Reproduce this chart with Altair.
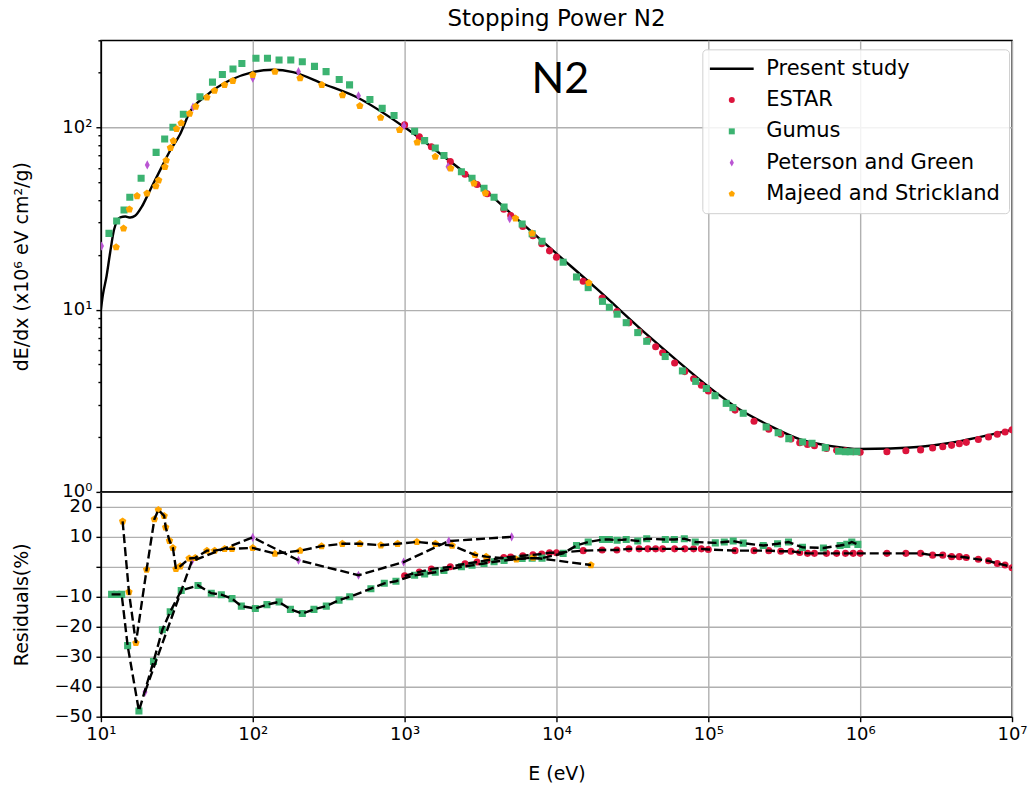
import altair as alt
import pandas as pd

# ---------------- data ----------------
series = ["Present study", "ESTAR", "Gumus", "Peterson and Green", "Majeed and Strickland"]
colors = ["#000000", "#dc143c", "#3cb371", "#ba55d3", "#ffa500"]
shapes = [
    "M-7.3,-0.42L7.3,-0.42L7.3,0.42L-7.3,0.42Z",
    "circle",
    "square",
    "M0,-1.3L0.7,0L0,1.3L-0.7,0Z",
    "M0,-1.1L1.05,-0.34L0.65,0.89L-0.65,0.89L-1.05,-0.34Z",
]

# Present study (solid curve)
curve_E = [10, 10.3, 10.9, 11.5, 12.2, 13.4, 14.5, 15.6, 16.8, 18.6, 20.6, 23.9, 28.6, 33.3, 38.4,
           49.4, 70.6, 100, 136, 184, 290, 481, 1000, 1840, 3050, 5050, 10000, 18300, 40700, 63100,
           100000, 158000, 251000, 398000, 631000, 1000000, 1580000, 2510000, 3980000, 6310000, 10000000]
curve_S = [10.0, 12.0, 15.3, 20.5, 27.4, 32.1, 32.4, 32.0, 32.7, 36.7, 43.5, 55.7, 74.6, 92.0, 120.8,
           149.3, 181.1, 200.9, 207.0, 200.9, 173.4, 146.6, 100.0, 68.5, 49.0, 33.5, 20.3, 13.06, 7.13, 5.20,
           3.78, 2.86, 2.32, 1.95, 1.79, 1.72, 1.73, 1.77, 1.86, 2.01, 2.19]

# ESTAR
estar_E = [1000, 1250, 1500, 2000, 2500, 3000, 3500, 4500, 5000, 6000, 7000, 8000, 9000, 10000,
           15000, 20000, 25000, 30000, 35000, 40000, 45000, 50000, 60000, 70000, 80000, 90000, 100000,
           150000, 200000, 250000, 300000, 350000, 400000, 450000, 500000, 600000, 700000, 800000,
           900000, 1000000, 1500000, 2000000, 2500000, 3000000, 3500000, 4000000, 4500000, 5000000,
           6000000, 7000000, 8000000, 9000000, 10000000]
estar_S = [103.1, 88.6, 78.3, 64.9, 55.3, 48.6, 43.2, 35.5, 32.8, 28.6, 25.4, 23.0, 21.0, 19.4,
           14.3, 11.57, 9.75, 8.47, 7.55, 6.82, 6.26, 5.80, 5.09, 4.57, 4.17, 3.85, 3.58,
           2.81, 2.44, 2.21, 2.07, 1.95, 1.86, 1.82, 1.79, 1.73, 1.69, 1.68,
           1.66, 1.65, 1.66, 1.68, 1.70, 1.74, 1.77, 1.80, 1.84, 1.87,
           1.94, 2.00, 2.07, 2.13, 2.19]
estar_R = [-3.0, -1.7, -0.7, 0.0, 1.0, 1.6, 2.2, 3.1, 3.3, 3.7, 4.0, 4.3, 4.7, 4.7,
           5.4, 5.6, 5.6, 6.0, 6.0, 6.0, 6.0, 6.0, 6.0, 6.0, 6.0, 6.0, 5.8,
           5.4, 5.4, 5.4, 5.2, 5.2, 4.8, 4.5, 4.5, 4.5, 4.5, 4.5,
           4.5, 4.5, 4.5, 4.5, 4.5, 3.9, 3.9, 3.4, 3.4, 3.1,
           2.5, 2.0, 1.1, 0.6, -0.3]

# Gumus
gumus_E = [11.3, 12.7, 14.2, 15.5, 18.4, 23.1, 26.3, 29.8, 34.9, 44.9, 54.3, 63.1, 74.1, 84.8, 105,
           125, 149, 178, 212, 255, 304, 371, 434, 591, 712, 852, 1164, 1355, 1592, 1816, 2366, 2780,
           3334, 3882, 4519, 5943, 6918, 8035, 11070, 13550, 16180, 20100, 22300, 25100, 28800, 34300,
           39300, 52000, 67500, 82600, 97000, 110700, 131200, 145200, 169800, 240400, 288400, 338800,
           418000, 482000, 589000, 721000, 798000, 859000, 951000]
gumus_S = [26.2, 30.6, 35.2, 41.3, 52.6, 72.9, 86.3, 100, 118, 147, 177, 195, 209, 224, 239,
           239, 234, 234, 229, 216, 202, 183, 171, 142, 127, 116, 95.1, 84.5, 77.1, 70.0, 57.1, 52.5,
           46.3, 41.3, 36.5, 29.5, 26.1, 23.7, 18.2, 15.1, 13.2, 11.1, 10.3, 9.44, 8.48, 7.48,
           6.70, 5.53, 4.61, 4.04, 3.69, 3.37, 3.06, 2.90, 2.70, 2.27, 2.11, 1.96,
           1.88, 1.85, 1.75, 1.67, 1.66, 1.66, 1.66]
gumus_RE = [11.76, 12.7, 13.7, 15.0, 17.8, 22.2, 25.4, 28.6, 33.8, 43.6, 53.3, 62.1, 73.0, 84.1, 104,
            124, 149, 177, 212, 253, 305, 370, 435, 600, 735, 877, 1164, 1355, 1592, 1816, 2366, 2780,
            3334, 3882, 4519, 5943, 6918, 8035, 11070, 13550, 16180, 20100, 22300, 25100, 28800, 34300,
            39300, 52100, 59700, 69500, 82000, 111200, 127400, 145900, 169800, 230100, 285800, 337300,
            416900, 572800, 738000, 816600, 881000, 966000]
gumus_R = [-9.2, -9.2, -9.2, -26.3, -48.1, -31.6, -21.0, -15.0, -7.9, -6.2, -8.8, -9.3, -10.6, -13.1, -13.9,
           -12.6, -11.7, -14.2, -15.6, -14.2, -13.1, -11.1, -10.0, -7.3, -5.5, -4.8, -2.8, -2.4, -1.8, -1.2,
           0.0, 0.5, 1.1, 1.7, 2.1, 2.8, 2.85, 2.9, 4.5, 7.1, 8.3, 9.1, 9.1, 8.9, 9.1, 8.6,
           9.4, 9.1, 9.1, 9.4, 8.3, 8.0, 8.3, 8.6, 7.9, 7.1, 7.7, 8.3,
           6.5, 6.3, 7.1, 7.5, 8.3, 7.5]

# Peterson and Green
peterson_E = [10.1, 20.2, 40.4, 100, 200, 497, 990, 1932, 4920]
peterson_S = [22.3, 62.2, 129, 186, 202, 149, 102, 60.8, 31.5]
peterson_RE = [19.5, 39.7, 100, 200, 497, 985, 1955, 5070]
peterson_R = [-41.8, 1.9, 9.8, 2.2, -2.8, 1.6, 8.6, 10.0]

# Majeed and Strickland
majeed_E = [12.6, 14.1, 15.4, 17.3, 20.1, 23.0, 24.0, 26.4, 26.9, 28.7, 30.0, 31.5, 33.8, 38.4, 42.1,
            49.9, 56, 65.2, 73.9, 100, 140, 205, 285, 390, 507, 695, 927, 1211, 1592, 2010, 2864,
            3404, 5370, 6918, 16330]
majeed_S = [22.0, 27.9, 35.5, 42.0, 43.4, 47.6, 51.2, 60.6, 65.8, 77.2, 84.2, 98, 105.5, 119, 130,
            146, 159, 171, 180, 194, 202, 186, 171, 150, 131, 113, 96.7, 82.8, 69, 59.6, 49.3,
            43.5, 31.7, 26.2, 14.0]
majeed_RE = [13.9, 15.3, 17.0, 20.0, 22.5, 23.9, 26.1, 26.7, 28.3, 29.8, 31.2, 33.3, 38.1, 41.8, 49.9,
             56.1, 65.3, 73, 100, 140, 205, 284, 389, 507, 698, 899, 1205, 1596, 2056, 2904, 3443,
             5445, 7015, 16870]
majeed_R = [15.2, -8.4, -25.4, -0.9, 15.9, 19.0, 17.0, 13.2, 8.7, 6.3, -0.7, 0.2, 2.8, 3.0, 5.4,
            5.4, 6.0, 6.0, 6.3, 4.4, 5.4, 6.9, 7.7, 7.7, 7.2, 7.7, 8.3, 7.7, 7.1, 4.0, 3.4,
            2.5, 3.1, 0.6]

# annotation
label_E = [10600]
label_S = [155]
label_T = ["N2"]

# ticks
x_decades = [10, 100, 1000, 10000, 100000, 1000000, 10000000]
y_top_ticks = [1, 2, 3, 4, 5, 6, 7, 8, 9, 10, 20, 30, 40, 50, 60, 70, 80, 90, 100, 200, 300]
y_res_ticks = [-50, -40, -30, -20, -10, 0, 10, 20]

# ---------------- frames ----------------
curve_df = pd.DataFrame({"E": curve_E, "S": curve_S})


def frame(name, e, v, col):
    return pd.DataFrame({"E": e, col: v, "src": name})


top_df = pd.concat([
    frame("ESTAR", estar_E, estar_S, "S"),
    frame("Gumus", gumus_E, gumus_S, "S"),
    frame("Peterson and Green", peterson_E, peterson_S, "S"),
    frame("Majeed and Strickland", majeed_E, majeed_S, "S"),
], ignore_index=True)

res_df = pd.concat([
    frame("ESTAR", estar_E, estar_R, "R"),
    frame("Gumus", gumus_RE, gumus_R, "R"),
    frame("Peterson and Green", peterson_RE, peterson_R, "R"),
    frame("Majeed and Strickland", majeed_RE, majeed_R, "R"),
], ignore_index=True)

label_df = pd.DataFrame({"E": label_E, "S": label_S, "t": label_T})

# ---------------- styling ----------------
FONT = "DejaVu Sans"
GRID = "#b0b0b0"
sup = "['⁰','¹','²','³','⁴','⁵','⁶','⁷'][round(log(datum.value)/LN10)]"

x_scale = alt.Scale(type="log", domain=[10, 1e7], nice=False)
ytop_scale = alt.Scale(type="log", domain=[1, 300], nice=False)
yres_scale = alt.Scale(domain=[-50, 25], nice=False, zero=False)
color_scale = alt.Scale(domain=series, range=colors)
shape_scale = alt.Scale(domain=series, range=shapes)

major_test = "datum.value == 1 || datum.value == 10 || datum.value == 100"

top_x_axis = alt.Axis(values=x_decades, labels=False, ticks=False, domain=False, title=None,
                      grid=True, gridColor=GRID, gridWidth=1.4)
top_y_axis = alt.Axis(
    values=y_top_ticks,
    labelExpr="(" + major_test + ") ? '10' + " + sup + " : ''",
    labelOverlap=False, labelFlush=False,
    title="dE/dx (x10⁶ eV cm²/g)", titleX=-79, titleY=226,
    titleAlign="center", titleBaseline="middle", titleAngle=-90,
    grid=True, gridColor=GRID, gridWidth=1.4,
    gridOpacity={"condition": {"test": major_test, "value": 1}, "value": 0},
    tickSize={"condition": {"test": major_test, "value": 5}, "value": 3},
)

res_x_axis = alt.Axis(values=x_decades, labelExpr="'10' + " + sup, title="E (eV)",
                      labelOverlap=False, labelFlush=False,
                      grid=True, gridColor=GRID, gridWidth=1.4, tickSize=5, titlePadding=21)
res_y_axis = alt.Axis(values=y_res_ticks, labelOverlap=False, labelFlush=False, tickCount=8,
                      labelExpr="datum.value == 0 ? '' : (datum.value < 0 ? '−' + abs(datum.value) : '' + datum.value)",
                      title="Residuals(%)", titleX=-79, titleY=112.5,
                      titleAlign="center", titleBaseline="middle", titleAngle=-90,
                      grid=True, gridColor=GRID, gridWidth=1.4, tickSize=5)

legend = alt.Legend(
    title=None, orient="none", legendX=602, legendY=9,
    labelFont=FONT, labelFontSize=21, labelColor="#000000", labelLimit=0,
    symbolSize=36, symbolStrokeWidth=0, symbolOffset=10, labelOffset=24,
    rowPadding=9.3, padding=9, cornerRadius=4,
    strokeColor="#d0d0d0", fillColor="rgba(255,255,255,0.85)",
)

# ---------------- top panel ----------------
curve = alt.Chart(curve_df).mark_line(color="black", strokeWidth=2.4, interpolate="monotone", clip=True).encode(
    x=alt.X("E:Q", scale=x_scale, axis=top_x_axis),
    y=alt.Y("S:Q", scale=ytop_scale, axis=top_y_axis),
)

top_points = alt.Chart(top_df).mark_point(filled=True, size=50, opacity=1, strokeWidth=0, clip=True).encode(
    x=alt.X("E:Q", scale=x_scale),
    y=alt.Y("S:Q", scale=ytop_scale),
    color=alt.Color("src:N", scale=color_scale, legend=legend),
    shape=alt.Shape("src:N", scale=shape_scale, legend=legend),
)

n2_text = alt.Chart(label_df).mark_text(font="Lato", fontSize=43, align="center",
                                         baseline="alphabetic", color="black").encode(
    x=alt.X("E:Q", scale=x_scale),
    y=alt.Y("S:Q", scale=ytop_scale),
    text="t:N",
)

top = alt.layer(curve, top_points, n2_text).properties(
    width=912, height=452,
    title=alt.TitleParams("Stopping Power N2", font=FONT, fontSize=23, fontWeight="normal",
                          anchor="middle", offset=0, color="#000000"),
)

# ---------------- residual panel ----------------
res_points = alt.Chart(res_df).mark_point(filled=True, size=50, opacity=1, strokeWidth=0, clip=True).encode(
    x=alt.X("E:Q", scale=x_scale, axis=res_x_axis),
    y=alt.Y("R:Q", scale=yres_scale, axis=res_y_axis),
    color=alt.Color("src:N", scale=color_scale, legend=None),
    shape=alt.Shape("src:N", scale=shape_scale, legend=None),
)

res_lines = alt.Chart(res_df).mark_line(color="black", strokeWidth=2.4, strokeDash=[9, 4], clip=True).encode(
    x=alt.X("E:Q", scale=x_scale, axis=res_x_axis),
    y=alt.Y("R:Q", scale=yres_scale, axis=res_y_axis),
    detail="src:N",
)

bottom = alt.layer(res_points, res_lines).properties(width=912, height=225)

chart = alt.vconcat(top, bottom, spacing=0, bounds="flush").resolve_scale(
    color="independent", shape="independent"
).properties(
    padding={"left": 12, "top": 7, "right": 2, "bottom": 4},
).configure(
    font=FONT,
).configure_view(
    stroke="#000000", strokeWidth=1.4,
).configure_axis(
    labelFont=FONT, labelFontSize=18, labelColor="#000000",
    titleFont=FONT, titleFontSize=19, titleFontWeight="normal", titleColor="#000000",
    domainColor="#000000", domainWidth=1.4, tickColor="#000000", tickWidth=1.4,
    labelPadding=4, labelOverlap=False, labelFlush=False,
)

chart.save("out.html", embed_options={"renderer": "svg", "actions": False})
